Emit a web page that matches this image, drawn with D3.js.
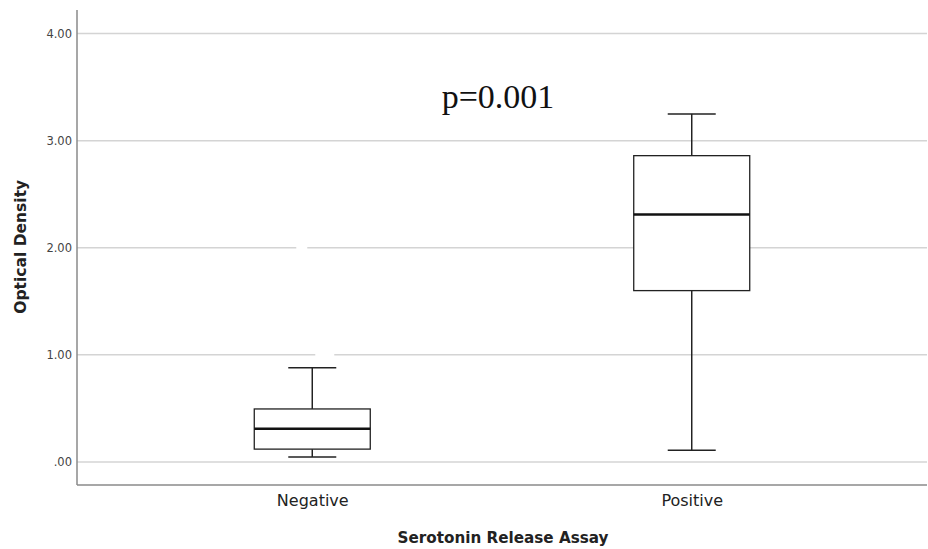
<!DOCTYPE html>
<html>
<head>
<meta charset="utf-8">
<script src="https://cdn.jsdelivr.net/npm/d3@7"></script>
<style>
  body { margin: 0; background: #fff; }
  svg { display: block; }
</style>
</head>
<body>
<svg id="chart" width="928" height="549"></svg>
<script>
const categories = ["Negative", "Positive"];
const whiskerLow = [0.047, 0.11];
const q1 = [0.12, 1.60];
const median = [0.31, 2.31];
const q3 = [0.495, 2.86];
const whiskerHigh = [0.88, 3.25];
const yTicks = [0, 1, 2, 3, 4];
const yTickLabels = [".00", "1.00", "2.00", "3.00", "4.00"];
// blank spots on gridlines (removed outlier markers) near the Negative group
const gapValues = [2, 1];
const gapOffsets = [[-16, -5], [3, 22]];

(function () {
const svg = d3.select("#chart");
const mLeft = 77, mRight = 927, mTop = 10, mBottom = 485;

const y = d3.scaleLinear().domain([-0.215, 4.22]).range([mBottom, mTop]);
const x = d3.scalePoint().domain(categories).range([mLeft, mRight]).padding(0.62);

// gridlines
svg.append("g").selectAll("line").data(yTicks).join("line")
  .attr("x1", mLeft).attr("x2", mRight)
  .attr("y1", d => y(d)).attr("y2", d => y(d))
  .attr("stroke", "#d4d4d4").attr("stroke-width", 1.5);

// gaps
svg.append("g").selectAll("rect").data(gapValues).join("rect")
  .attr("x", (d, i) => x("Negative") + gapOffsets[i][0])
  .attr("width", (d, i) => gapOffsets[i][1] - gapOffsets[i][0])
  .attr("y", d => y(d) - 2).attr("height", 4)
  .attr("fill", "#fff");

// y axis
const yAxis = d3.axisLeft(y).tickValues(yTicks)
  .tickFormat((d, i) => yTickLabels[i]).tickSize(0).tickPadding(5);
const gy = svg.append("g").attr("transform", `translate(${mLeft},0)`).call(yAxis);
gy.select(".domain").remove();
gy.selectAll(".tick text")
  .attr("font-family", "DejaVu Sans, sans-serif").attr("font-size", 11.5)
  .attr("fill", "#444");

// x axis
const xAxis = d3.axisBottom(x).tickSize(0).tickPadding(10);
const gx = svg.append("g").attr("transform", `translate(0,${mBottom})`).call(xAxis);
gx.select(".domain").remove();
gx.selectAll(".tick text")
  .attr("font-family", "DejaVu Sans, sans-serif").attr("font-size", 16)
  .attr("fill", "#222");

// axis lines
svg.append("line").attr("x1", mLeft).attr("x2", mLeft).attr("y1", mTop).attr("y2", mBottom)
  .attr("stroke", "#8a8a8a").attr("stroke-width", 1.5);
svg.append("line").attr("x1", mLeft).attr("x2", mRight).attr("y1", mBottom).attr("y2", mBottom)
  .attr("stroke", "#8a8a8a").attr("stroke-width", 1.5);

// boxes
const boxW = 116, capW = 48;
const g = svg.append("g").selectAll("g").data(categories).join("g");
g.append("line")
  .attr("x1", d => x(d)).attr("x2", d => x(d))
  .attr("y1", (d, i) => y(whiskerHigh[i])).attr("y2", (d, i) => y(q3[i]))
  .attr("stroke", "#222").attr("stroke-width", 1.5);
g.append("line")
  .attr("x1", d => x(d)).attr("x2", d => x(d))
  .attr("y1", (d, i) => y(q1[i])).attr("y2", (d, i) => y(whiskerLow[i]))
  .attr("stroke", "#222").attr("stroke-width", 1.5);
g.append("line")
  .attr("x1", d => x(d) - capW / 2).attr("x2", d => x(d) + capW / 2)
  .attr("y1", (d, i) => y(whiskerHigh[i])).attr("y2", (d, i) => y(whiskerHigh[i]))
  .attr("stroke", "#222").attr("stroke-width", 1.5);
g.append("line")
  .attr("x1", d => x(d) - capW / 2).attr("x2", d => x(d) + capW / 2)
  .attr("y1", (d, i) => y(whiskerLow[i])).attr("y2", (d, i) => y(whiskerLow[i]))
  .attr("stroke", "#222").attr("stroke-width", 1.5);
g.append("rect")
  .attr("x", d => x(d) - boxW / 2).attr("width", boxW)
  .attr("y", (d, i) => y(q3[i])).attr("height", (d, i) => y(q1[i]) - y(q3[i]))
  .attr("fill", "#fff").attr("stroke", "#222").attr("stroke-width", 1.3);
g.append("line")
  .attr("x1", d => x(d) - boxW / 2).attr("x2", d => x(d) + boxW / 2)
  .attr("y1", (d, i) => y(median[i])).attr("y2", (d, i) => y(median[i]))
  .attr("stroke", "#111").attr("stroke-width", 2.5);

// axis titles
svg.append("text")
  .attr("x", 503).attr("y", 543)
  .attr("text-anchor", "middle")
  .attr("font-family", "DejaVu Sans, sans-serif").attr("font-weight", "bold")
  .attr("font-size", 15.2).attr("fill", "#222")
  .text("Serotonin Release Assay");
svg.append("text")
  .attr("transform", `translate(26,${y(2) - 1}) rotate(-90)`)
  .attr("text-anchor", "middle")
  .attr("font-family", "DejaVu Sans, sans-serif").attr("font-weight", "bold")
  .attr("font-size", 15.5).attr("fill", "#222")
  .text("Optical Density");

// annotation
svg.append("text")
  .attr("x", 498).attr("y", 108)
  .attr("text-anchor", "middle")
  .attr("font-family", "Liberation Serif, serif")
  .attr("font-size", 34).attr("fill", "#111")
  .text("p=0.001");
})();
</script>
</body>
</html>
